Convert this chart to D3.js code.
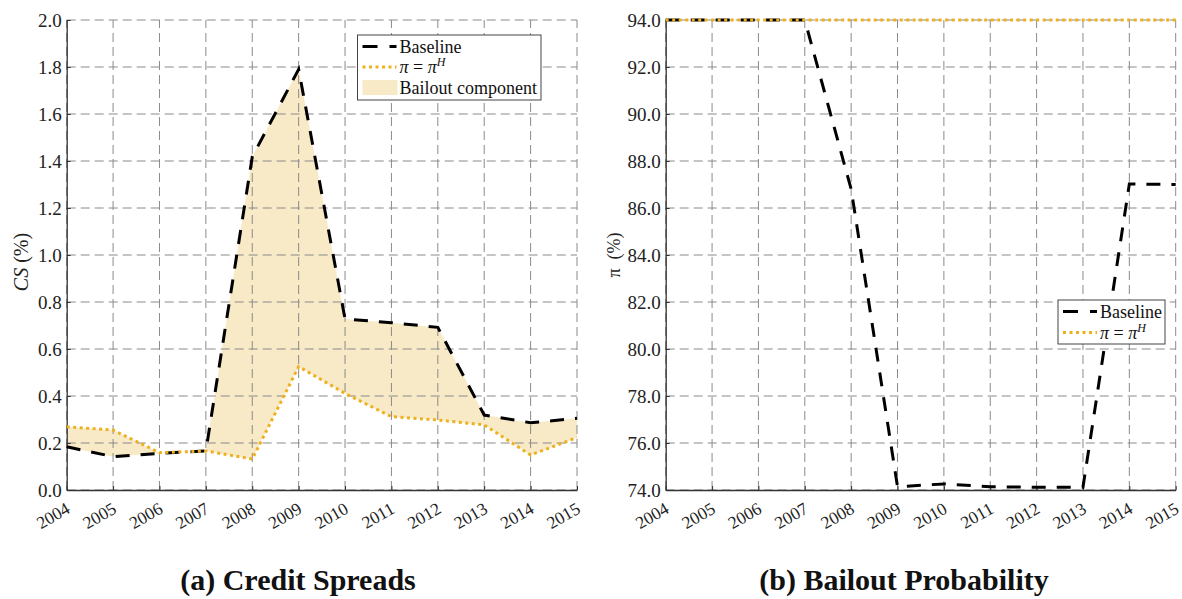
<!DOCTYPE html>
<html><head><meta charset="utf-8">
<script src="https://cdn.jsdelivr.net/npm/d3@7"></script>
<style>body{margin:0;background:#fff}</style>
</head><body>
<svg id="c" width="1182" height="599"></svg>
<script>
// Years on the horizontal axis of both panels
const years = [2004, 2005, 2006, 2007, 2008, 2009, 2010, 2011, 2012, 2013, 2014, 2015];
// Panel (a): credit spreads, in percent
const csBaseline = [0.184, 0.142, 0.156, 0.166, 1.418, 1.790, 0.728, 0.712, 0.692, 0.319, 0.286, 0.305];
const csHigh     = [0.269, 0.255, 0.159, 0.166, 0.132, 0.525, 0.411, 0.312, 0.298, 0.277, 0.149, 0.223];
// Panel (b): bailout probability, in percent
const piBaseline = [94.0, 94.0, 94.0, 94.0, 86.8, 74.14, 74.26, 74.14, 74.12, 74.12, 87.02, 87.0];
const piHigh     = [94.0, 94.0, 94.0, 94.0, 94.0, 94.0, 94.0, 94.0, 94.0, 94.0, 94.0, 94.0];
// Tick values
const csTicks = [0.0, 0.2, 0.4, 0.6, 0.8, 1.0, 1.2, 1.4, 1.6, 1.8, 2.0];
const piTicks = [74, 76, 78, 80, 82, 84, 86, 88, 90, 92, 94];
const panelTitles = ["(a) Credit Spreads", "(b) Bailout Probability"];

const ORANGE = "#EDB120";
const FILL = "#F9EAC7";
const SERIF = "'Liberation Serif', 'DejaVu Serif', serif";

const svg = d3.select("#c");

function panel(opts) {
  const x = d3.scaleLinear().domain([2004, 2015]).range(opts.xr);
  const y = d3.scaleLinear().domain(opts.yd).range([490, 20]);
  const g = svg.append("g");

  // shaded band between the two series
  if (opts.fill) {
    const area = d3.area()
      .x((d, i) => x(years[i]))
      .y0((d, i) => y(opts.fill[1][i]))
      .y1((d, i) => y(opts.fill[0][i]));
    g.append("path").datum(years).attr("d", area).attr("fill", FILL);
  }

  // dashed grid
  const grid = g.append("g").attr("stroke", "#8a8a8a").attr("stroke-width", 1)
    .attr("stroke-dasharray", "9,5").attr("fill", "none");
  grid.selectAll("line.v").data(years).join("line")
    .attr("x1", d => x(d)).attr("x2", d => x(d)).attr("y1", 490).attr("y2", 20);
  grid.selectAll("line.h").data(opts.ticks).join("line")
    .attr("y1", d => Math.round(y(d))).attr("y2", d => Math.round(y(d)))
    .attr("x1", opts.xr[0]).attr("x2", opts.xr[1]);

  // axes (ticks inward)
  const yAxis = d3.axisLeft(y).tickValues(opts.ticks).tickFormat(d3.format(".1f"))
    .tickSizeInner(-4).tickSizeOuter(0).tickPadding(5);
  const yg = g.append("g").attr("transform", `translate(${opts.xr[0]},0)`).call(yAxis);
  const xAxis = d3.axisBottom(x).tickValues(years).tickFormat(d3.format("d"))
    .tickSizeInner(-4).tickSizeOuter(0);
  const xg = g.append("g").attr("transform", "translate(0,490)").call(xAxis);
  [yg, xg].forEach(a => {
    a.select(".domain").attr("stroke", "#333").attr("stroke-width", 1.3);
    a.selectAll(".tick line").attr("stroke", "#333");
    a.selectAll("text").attr("font-family", SERIF).attr("fill", "#222");
  });
  yg.selectAll("text").attr("font-size", 19);
  xg.selectAll("text").attr("font-size", 17.5)
    .attr("text-anchor", "end").attr("dy", null).attr("y", null)
    .attr("transform", "translate(4,22) rotate(-30)");

  // series lines
  const line = d3.line().x((d, i) => x(years[i])).y(d => y(d));
  g.append("path").datum(opts.base).attr("d", line).attr("fill", "none")
    .attr("stroke", "#000").attr("stroke-width", 3).attr("stroke-dasharray", "14,11");
  g.append("path").datum(opts.high).attr("d", line).attr("fill", "none")
    .attr("stroke", ORANGE).attr("stroke-width", 3).attr("stroke-dasharray", "3,3.5");

  // y label
  g.append("text").attr("transform", `translate(${opts.ylx},${opts.yly}) rotate(-90)`)
    .attr("text-anchor", "middle").attr("font-family", SERIF).attr("font-size", opts.ylSize)
    .attr("fill", "#222").html(opts.ylabel);

  // legend
  const L = opts.legend;
  const lg = g.append("g");
  lg.append("rect").attr("x", L.x).attr("y", L.y).attr("width", L.w).attr("height", L.h)
    .attr("fill", "#fff").attr("stroke", "#444").attr("stroke-width", 1);
  const rows = [
    {type: "base", label: "Baseline"},
    {type: "high", label: "<tspan font-style='italic'>π</tspan> = <tspan font-style='italic'>π</tspan><tspan font-style='italic' font-size='12' dy='-7'>H</tspan>"}
  ];
  if (opts.fill) rows.push({type: "fill", label: "Bailout component"});
  rows.forEach((r, i) => {
    const cy = L.y + 11.5 + i * L.step;
    const sx0 = L.x + 5, sx1 = L.x + 39;
    if (r.type === "base") {
      lg.append("line").attr("x1", sx0).attr("x2", sx1).attr("y1", cy).attr("y2", cy)
        .attr("stroke", "#000").attr("stroke-width", 3).attr("stroke-dasharray", "15,12");
    } else if (r.type === "high") {
      lg.append("line").attr("x1", sx0).attr("x2", sx1).attr("y1", cy).attr("y2", cy)
        .attr("stroke", ORANGE).attr("stroke-width", 3).attr("stroke-dasharray", "3,3.5");
    } else {
      lg.append("rect").attr("x", sx0).attr("y", cy - 7.5).attr("width", 35).attr("height", 15)
        .attr("fill", FILL);
    }
    lg.append("text").attr("x", L.x + 42).attr("y", cy + 6).attr("font-family", SERIF)
      .attr("font-size", 18).attr("fill", "#111").html(r.label);
  });

  // panel title
  svg.append("text").attr("x", opts.titleX).attr("y", 590).attr("text-anchor", "middle")
    .attr("font-family", SERIF).attr("font-weight", "bold").attr("font-size", 30)
    .attr("fill", "#111").text(opts.title);
}

panel({
  xr: [66.7, 577], yd: [0, 2], ticks: csTicks,
  base: csBaseline, high: csHigh, fill: [csBaseline, csHigh],
  ylabel: "<tspan font-style='italic'>CS</tspan> (%)", ylx: 28, yly: 262, ylSize: 20,
  legend: {x: 357.5, y: 35, w: 183.5, h: 65, step: 20.5},
  title: panelTitles[0], titleX: 298
});
panel({
  xr: [665.7, 1175.7], yd: [74, 94], ticks: piTicks,
  base: piBaseline, high: piHigh, fill: null,
  ylabel: "π &#160;(%)", ylx: 620, yly: 255, ylSize: 18,
  legend: {x: 1058, y: 300, w: 107, h: 44, step: 21},
  title: panelTitles[1], titleX: 904
});
</script>
</body></html>
